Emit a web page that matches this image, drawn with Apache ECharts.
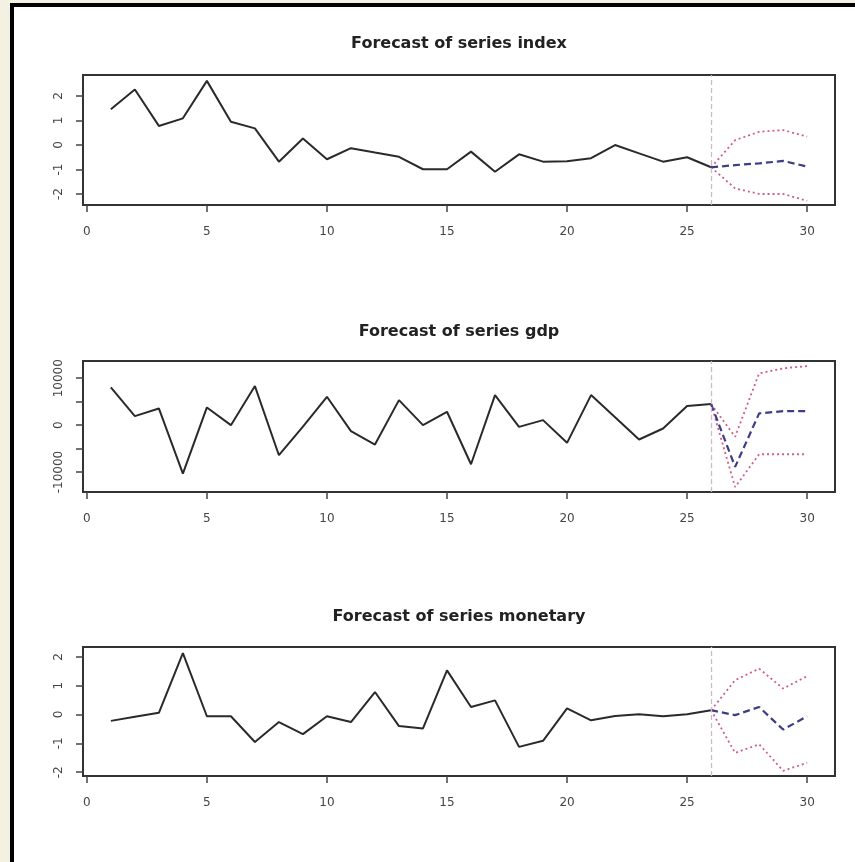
<!DOCTYPE html>
<html>
<head>
<meta charset="utf-8">
<script src="https://cdn.jsdelivr.net/npm/echarts@6/dist/echarts.min.js"></script>
<style>
  html, body { margin: 0; padding: 0; background: #f3f1e1; }
  #frame { position: absolute; left: 10px; top: 3px; width: 841px; height: 855px; background: #fff; border-left: 4px solid #000; border-top: 4px solid #000; }
  #chart { position: absolute; left: 0; top: 0; width: 855px; height: 862px; }
</style>
</head>
<body>
<div id="frame"></div>
<div id="chart"></div>
<script>
  // observed periods 1..26, forecast 26..30
  var histX = [1, 2, 3, 4, 5, 6, 7, 8, 9, 10, 11, 12, 13, 14, 15, 16, 17, 18, 19, 20, 21, 22, 23, 24, 25, 26]
  var fcstX = [26, 27, 28, 29, 30]
  var xTicks = [0, 5, 10, 15, 20, 25, 30]

  var indexHist = [1.46, 2.27, 0.78, 1.09, 2.62, 0.95, 0.68, -0.68, 0.27, -0.58, -0.13, -0.31, -0.48, -0.99, -0.99, -0.27, -1.09, -0.38, -0.68, -0.66, -0.54, 0.0, -0.34, -0.68, -0.5, -0.91]
  var indexFcst = [-0.91, -0.82, -0.75, -0.65, -0.88]
  var indexUpper = [-0.91, 0.2, 0.54, 0.61, 0.34]
  var indexLower = [-0.91, -1.77, -2.0, -2.0, -2.28]
  var indexTicks = [-2, -1, 0, 1, 2]

  var gdpHist = [8050, 1920, 3560, -10330, 3770, 0, 8330, -6410, -300, 6050, -1280, -4130, 5340, 0, 2850, -8330, 6410, -360, 1070, -3770, 6410, 1700, -3060, -710, 4060, 4490]
  var gdpFcst = [4490, -8900, 2500, 2990, 2990]
  var gdpUpper = [4490, -2490, 11050, 12100, 12600]
  var gdpLower = [4490, -13200, -6200, -6200, -6200]
  var gdpTicks = [-10000, -5000, 0, 5000, 10000]
  var gdpLabels = [-10000, 0, 10000]

  var monetaryHist = [-0.22, -0.08, 0.06, 2.13, -0.06, -0.06, -0.95, -0.26, -0.68, -0.06, -0.26, 0.78, -0.4, -0.48, 1.53, 0.26, 0.49, -1.12, -0.91, 0.21, -0.2, -0.05, 0.01, -0.06, 0.01, 0.15]
  var monetaryFcst = [0.15, -0.02, 0.26, -0.52, -0.06]
  var monetaryUpper = [0.15, 1.19, 1.59, 0.9, 1.33]
  var monetaryLower = [0.15, -1.33, -1.03, -1.95, -1.67]
  var monetaryTicks = [-2, -1, 0, 1, 2]

  var panels = [
    {name: 'index', hist: indexHist, fcst: indexFcst, upper: indexUpper, lower: indexLower, ticks: indexTicks, labels: indexTicks, min: -2.45, max: 2.86, top: 75, height: 130, titleTop: 31},
    {name: 'gdp', hist: gdpHist, fcst: gdpFcst, upper: gdpUpper, lower: gdpLower, ticks: gdpTicks, labels: gdpLabels, min: -14250, max: 13675, top: 361, height: 131, titleTop: 319},
    {name: 'monetary', hist: monetaryHist, fcst: monetaryFcst, upper: monetaryUpper, lower: monetaryLower, ticks: monetaryTicks, labels: monetaryTicks, min: -2.13, max: 2.34, top: 647, height: 129, titleTop: 604}
  ]

  function pairs (xs, ys) {
    var out = []
    for (var i = 0; i < xs.length; i++) {
      out.push([xs[i], ys[i]])
    }
    return out
  }

  function plain (v) {
    return String(v)
  }

  var tickStyle = {show: true, inside: false, length: 7, lineStyle: {color: '#444', width: 1.5}}
  var labelFont = {fontFamily: 'DejaVu Sans', fontSize: 12, color: '#444', formatter: plain}

  var title = []
  var grid = []
  var xAxis = []
  var yAxis = []
  var series = []

  for (var p = 0; p < panels.length; p++) {
    var d = panels[p]
    title.push({
      text: 'Forecast of series ' + d.name,
      left: 454,
      top: d.titleTop,
      textAlign: 'center',
      textStyle: {fontFamily: 'DejaVu Sans', fontWeight: 'bold', fontSize: 16, color: '#222'}
    })
    grid.push({
      left: 83, right: 20, top: d.top, height: d.height,
      show: true, borderColor: '#333', borderWidth: 2, backgroundColor: 'transparent'
    })
    xAxis.push({
      type: 'value', gridIndex: p, min: -0.16, max: 31.16,
      axisLine: {show: false, onZero: false},
      splitLine: {show: false},
      axisTick: Object.assign({customValues: xTicks}, tickStyle),
      axisLabel: Object.assign({customValues: xTicks, margin: 21}, labelFont)
    })
    yAxis.push({
      type: 'value', gridIndex: p, min: d.min, max: d.max,
      axisLine: {show: false, onZero: false},
      splitLine: {show: false},
      axisTick: Object.assign({customValues: d.ticks}, tickStyle),
      axisLabel: Object.assign({customValues: d.labels, rotate: 90, margin: 18}, labelFont)
    })
    series.push({
      type: 'line', xAxisIndex: p, yAxisIndex: p, data: pairs(histX, d.hist),
      showSymbol: false, silent: true, animation: false,
      lineStyle: {color: '#2a2a2a', width: 2},
      markLine: {
        silent: true, symbol: 'none', animation: false,
        label: {show: false},
        lineStyle: {color: '#c9bcc6', type: [5, 3], width: 1.3},
        data: [{xAxis: 26}]
      }
    })
    series.push({
      type: 'line', xAxisIndex: p, yAxisIndex: p, data: pairs(fcstX, d.upper),
      showSymbol: false, silent: true, animation: false,
      lineStyle: {color: '#cf5f86', width: 1.8, type: [2, 3]}
    })
    series.push({
      type: 'line', xAxisIndex: p, yAxisIndex: p, data: pairs(fcstX, d.lower),
      showSymbol: false, silent: true, animation: false,
      lineStyle: {color: '#cf5f86', width: 1.8, type: [2, 3]}
    })
    series.push({
      type: 'line', xAxisIndex: p, yAxisIndex: p, data: pairs(fcstX, d.fcst),
      showSymbol: false, silent: true, animation: false,
      lineStyle: {color: '#3d3d86', width: 2.2, type: [7, 4]}
    })
  }

  var chart = echarts.init(document.getElementById('chart'))
  chart.setOption({
    animation: false,
    title: title,
    grid: grid,
    xAxis: xAxis,
    yAxis: yAxis,
    series: series
  })
</script>
</body>
</html>
